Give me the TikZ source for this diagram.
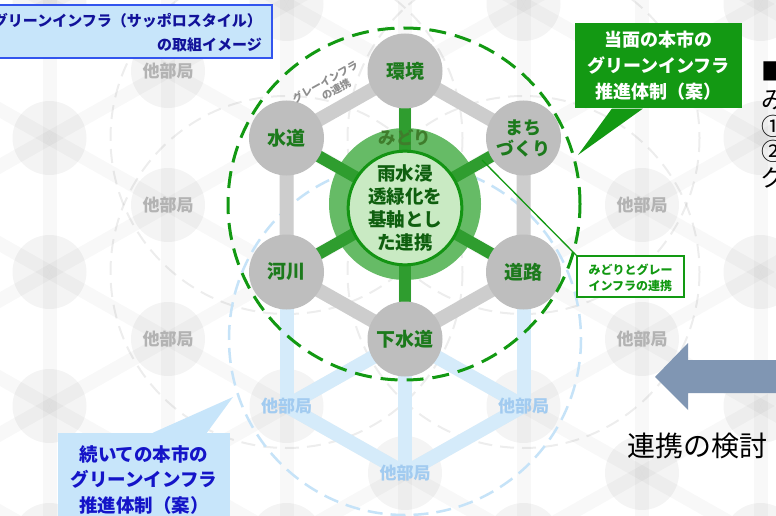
\documentclass[tikz,border=0pt]{standalone}
\usepackage{fontspec}
\newfontfamily\jp{Noto Sans CJK JP}
\usetikzlibrary{calc}
\definecolor{nodegray}{HTML}{BEBEBE}
\definecolor{edgegray}{HTML}{CDCDCD}
\definecolor{textgreen}{HTML}{1C7A1C}
\definecolor{spokegreen}{HTML}{2F9D2F}
\definecolor{ringgreen}{HTML}{66BB66}
\definecolor{innerfill}{HTML}{C9EAC3}
\definecolor{innerdraw}{HTML}{149414}
\definecolor{hubtext}{HTML}{0F5F0F}
\definecolor{midoritext}{HTML}{3F7D2C}
\definecolor{dashgreen}{HTML}{129912}
\definecolor{edgeblue}{HTML}{D5EBFA}
\definecolor{bluedashc}{HTML}{C6E3F8}
\definecolor{bluetext}{HTML}{A2CBF0}
\definecolor{othertextc}{HTML}{B3B3B3}
\definecolor{callgreen}{HTML}{139913}
\definecolor{lightbluefill}{HTML}{C7E5FA}
\definecolor{calltextblue}{HTML}{1414C8}
\definecolor{titletext}{HTML}{12129A}
\definecolor{titleborder}{HTML}{3355EE}
\definecolor{arrowcol}{HTML}{8096B3}
\definecolor{graylabel}{HTML}{8E8E8E}
\begin{document}
\begin{tikzpicture}[x=1pt,y=-1pt,
  faintedge/.style={line width=14pt, draw=black, draw opacity=0.028},
  faintnode/.style={circle, fill=black, fill opacity=0.045, minimum size=74pt, inner sep=0pt},
  faintdash/.style={draw=black, draw opacity=0.07, line width=2pt, dash pattern=on 14pt off 8pt},
  othertext/.style={text=othertextc, font=\jp\bfseries\fontsize{17}{20}\selectfont},
  bluetextst/.style={text=bluetext, font=\jp\bfseries\fontsize{17}{20}\selectfont},
  blueedge/.style={line width=14pt, draw=edgeblue},
  bluedash/.style={draw=bluedashc, line width=2.5pt, dash pattern=on 15pt off 8pt},
  grayedge/.style={line width=14pt, draw=edgegray, line join=round},
  spoke/.style={line width=12pt, draw=spokegreen},
  graynode/.style={circle, fill=nodegray, minimum size=75pt, inner sep=0pt, text=textgreen,
    font=\jp\bfseries\fontsize{19}{22}\selectfont, align=center},
  ring/.style={circle, fill=ringgreen, minimum size=152pt, inner sep=0pt},
  hubst/.style={circle, fill=innerfill, draw=innerdraw, line width=3pt, minimum size=108pt,
    inner sep=0pt, text=hubtext, align=center, font=\jp\bfseries\fontsize{18.5}{23}\selectfont},
  greendash/.style={circle, draw=dashgreen, line width=3pt, dash pattern=on 17pt off 9pt,
    minimum size=352pt, inner sep=0pt},
  callg/.style={fill=callgreen, text=white, align=center, minimum width=167pt, minimum height=85pt,
    inner sep=0pt, font=\jp\bfseries\fontsize{18}{26}\selectfont},
  callb/.style={fill=lightbluefill, text=calltextblue, align=center, minimum width=172pt,
    minimum height=95pt, inner sep=0pt, font=\jp\bfseries\fontsize{18.5}{25.5}\selectfont},
  smallbox/.style={draw=dashgreen, line width=1.5pt, fill=white, minimum width=107pt,
    minimum height=41pt, inner sep=0pt},
  smalltext/.style={text=dashgreen, align=left, font=\jp\bfseries\fontsize{12}{16}\selectfont},
  titlebox/.style={fill=lightbluefill, draw=titleborder, line width=2pt, minimum width=280pt,
    minimum height=53pt, inner sep=0pt},
  titletextst/.style={text=titletext, font=\jp\bfseries\fontsize{15}{18}\selectfont, inner sep=0pt},
  righttext/.style={text=black, font=\jp\fontsize{24}{26}\selectfont, inner sep=0pt, anchor=west}
]
\useasboundingbox (0,0) rectangle (776,516);
\fill[white] (0,0) rectangle (776,516);
\clip (0,0) rectangle (776,516);

% lattice coordinates
\foreach \k in {-1,...,7}{
  \foreach \r in {-7,...,9}{
    \pgfmathtruncatemacro\pp{mod(\k+\r+40,2)}
    \ifnum\pp=1
      \coordinate (L\k_\r) at ({405+118.5*(\k-3)},{205+67*\r});
    \fi
  }
}
% faint nodes
\foreach \k in {-1,...,7}{
  \foreach \r in {-5,...,7}{
    \pgfmathtruncatemacro\pp{mod(\k+\r+40,2)}
    \ifnum\pp=1
      \node[faintnode] (N\k_\r) at (L\k_\r) {};
    \fi
  }
}
% faint edges
\foreach \k in {-1,...,6}{
  \foreach \r in {-6,...,7}{
    \pgfmathtruncatemacro\pp{mod(\k+\r+40,2)}
    \ifnum\pp=1
      \pgfmathtruncatemacro\ra{\r+2}
      \pgfmathtruncatemacro\rb{\r+1}
      \pgfmathtruncatemacro\rc{\r-1}
      \pgfmathtruncatemacro\kn{\k+1}
      \draw[faintedge] (L\k_\r) -- (L\k_\ra);
      \draw[faintedge] (L\k_\r) -- (L\kn_\rb);
      \draw[faintedge] (L\k_\r) -- (L\kn_\rc);
    \fi
  }
}
% faint dashed circles
\draw[faintdash] (L2_-1) circle (176);
\draw[faintdash] (L2_1) circle (176);
\draw[faintdash] (L4_-1) circle (176);
\draw[faintdash] (L4_1) circle (176);

% other-department labels
\node[othertext] (o1) at (L1_-2) {他部局};
\node[othertext] (o2) at (L1_0) {他部局};
\node[othertext] (o3) at (L1_2) {他部局};
\node[othertext] (o4) at (L5_0) {他部局};
\node[othertext] (o5) at (L5_2) {他部局};

% blue (next) hexagon
\draw[bluedash] (L3_2) circle (176);
\draw[blueedge] (L2_1) -- (L2_3);
\draw[blueedge] (L4_1) -- (L4_3);
\draw[blueedge] (L3_2) -- (L2_3);
\draw[blueedge] (L3_2) -- (L4_3);
\draw[blueedge] (L3_2) -- (L3_4);
\draw[blueedge] (L2_3) -- (L3_4);
\draw[blueedge] (L4_3) -- (L3_4);
\node[bluetextst] (b1) at (L2_3) {他部局};
\node[bluetextst] (b2) at (L4_3) {他部局};
\node[bluetextst] (b3) at (L3_4) {他部局};

% main hexagon
\draw[grayedge] (L3_-2) -- (L2_-1) -- (L2_1) -- (L3_2) -- (L4_1) -- (L4_-1) -- cycle;
\node[ring] (hubring) at (405,204) {};
\draw[spoke] (L3_0) -- (L3_-2);
\draw[spoke] (L3_0) -- (L2_-1);
\draw[spoke] (L3_0) -- (L4_-1);
\draw[spoke] (L3_0) -- (L2_1);
\draw[spoke] (L3_0) -- (L4_1);
\draw[spoke] (L3_0) -- (L3_2);
\node[hubst] (hub) at (405,208) {雨水浸\\透緑化を\\基軸とし\\た連携};
\node[text=midoritext, font=\jp\bfseries\fontsize{17.5}{20}\selectfont] (midori) at (405,138) {みどり};

\node[graynode] (kankyo) at (L3_-2) {環境};
\node[graynode] (suido) at (L2_-1) {水道};
\node[graynode, font=\jp\bfseries\fontsize{18}{21}\selectfont] (machi) at (L4_-1) {まち\\づくり};
\node[graynode] (kasen) at (L2_1) {河川};
\node[graynode] (doro) at (L4_1) {道路};
\node[graynode] (gesui) at (L3_2) {下水道};

\node[text=graylabel, font=\jp\bfseries\fontsize{10.5}{12}\selectfont, rotate=29, align=center,
  inner sep=0pt] (grayinfra) at (328,87) {グレーインフラ\\\hspace*{12pt}の連携};

\node[greendash] (zone) at (404,204) {};

% green callout
\node[callg] (gcall) at (658.5,65.5) {当面の本市の\\グリーンインフラ\\推進体制（案）};
\coordinate (gptr) at (578,155);
\fill[callgreen] ($(gcall.south west)+(37,0.5)$) -- (gptr) -- ($(gcall.south west)+(68,0.5)$) -- cycle;

% small label box
\coordinate (lblstart) at (482,160);
\node[smallbox] (sbox) at (630.5,276.5) {};
\draw[draw=dashgreen, line width=1.3pt] (lblstart) -- (sbox.north west);
\node[smalltext, anchor=west] (stext) at (585,278) {みどりとグレー\\インフラの連携};

% blue callout
\node[callb] (bcall) at (144,480) {続いての本市の\\グリーンインフラ\\推進体制（案）};
\coordinate (bptr) at (233,397);
\fill[lightbluefill] ($(bcall.north west)+(95,0.5)$) -- (bptr) -- ($(bcall.north west)+(149,0.5)$) -- cycle;

% title box
\node[titlebox] (tbox) at (132,31.5) {};
\node[titletextst, anchor=east] (t1) at (262,21) {グリーンインフラ（サッポロスタイル）};
\node[titletextst, anchor=east] (t2) at (262,45) {の取組イメージ};

% big arrow
\fill[arrowcol] (655,377) -- (688,343) -- (688,360) -- (790,360) -- (790,393) -- (688,393) -- (688,410) -- cycle;

% right-hand texts
\node[text=black, font=\jp\fontsize{28}{30}\selectfont, inner sep=0pt] (kento) at (697,446) {連携の検討};
\node[righttext] (r0) at (761,71) {■};
\node[righttext] (r1) at (761,100) {み};
\node[righttext] (r2) at (761,126) {①};
\node[righttext] (r3) at (761,151) {②};
\node[righttext] (r4) at (761,177) {グ};
\end{tikzpicture}
\end{document}
